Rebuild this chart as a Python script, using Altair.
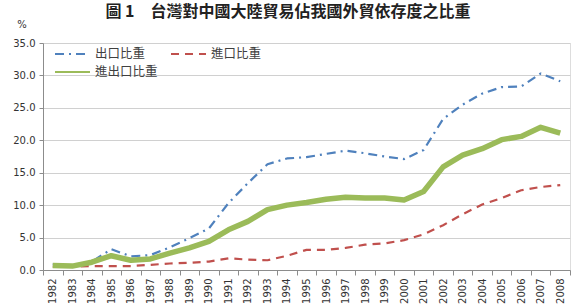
import altair as alt
import pandas as pd

years = [str(y) for y in range(1982, 2009)]
export_share = [0.9, 0.6, 1.3, 3.2, 2.1, 2.3, 3.5, 4.9, 6.4, 10.3, 13.4, 16.3, 17.2, 17.4, 17.9, 18.4, 18.0, 17.5, 17.1, 18.5, 23.3, 25.5, 27.2, 28.2, 28.3, 30.3, 29.1]
import_share = [0.5, 0.5, 0.6, 0.6, 0.6, 0.8, 1.0, 1.1, 1.3, 1.8, 1.6, 1.5, 2.2, 3.1, 3.1, 3.4, 3.9, 4.1, 4.6, 5.5, 6.9, 8.6, 10.1, 11.1, 12.3, 12.8, 13.1]
total_share = [0.7, 0.6, 1.2, 2.2, 1.5, 1.7, 2.6, 3.4, 4.4, 6.2, 7.5, 9.3, 10.0, 10.4, 10.9, 11.2, 11.1, 11.1, 10.8, 12.1, 15.9, 17.7, 18.7, 20.1, 20.6, 22.0, 21.1]

series_names = ["出口比重", "進口比重", "進出口比重"]
series_colors = ["#4F81BD", "#C0504D", "#9BBB59"]
series_dash = [[9, 5, 2, 5], [8, 6], [1, 0]]

title_text = "圖 1　台灣對中國大陸貿易佔我國外貿依存度之比重"
unit_text = "%"

rows = []
for name, vals in zip(series_names, [export_share, import_share, total_share]):
    for y, v in zip(years, vals):
        rows.append({"year": y, "series": name, "value": v})
df = pd.DataFrame(rows)

W, H = 527, 227
num_font = "DejaVu Sans"
cjk_font = "Noto Sans CJK TC"

x_enc = alt.X(
    "year:O",
    sort=years,
    scale=alt.Scale(type="band", paddingInner=0, paddingOuter=0),
    axis=alt.Axis(
        title=None, labelAngle=270, tickBand="extent", grid=False,
        domainColor="#8c8c8c", tickColor="#8c8c8c", tickSize=5,
        labelFont=num_font, labelFontSize=10, labelColor="#333333", labelPadding=3,
    ),
    bandPosition=0.5,
)
y_enc = alt.Y(
    "value:Q",
    scale=alt.Scale(domain=[0, 35], nice=False),
    axis=alt.Axis(
        title=None, values=[0, 5, 10, 15, 20, 25, 30, 35], format=".1f",
        gridColor="#d0d0d0", gridWidth=1, domainColor="#8c8c8c",
        tickColor="#8c8c8c", tickSize=4, labelFont=num_font, labelFontSize=10,
        labelColor="#333333", labelPadding=4,
    ),
)

color_enc = alt.Color(
    "series:N",
    sort=series_names,
    scale=alt.Scale(domain=series_names, range=series_colors),
    legend=alt.Legend(
        title=None, orient="none", legendX=11, legendY=2, columns=2,
        direction="horizontal", values=series_names,
        symbolType="stroke", symbolSize=1225, symbolStrokeWidth=2,
        labelFont=cjk_font, labelFontSize=12.5, labelColor="#404040",
        columnPadding=12, rowPadding=0, labelOffset=4, clipHeight=18,
    ),
)
dash_enc = alt.StrokeDash(
    "series:N",
    sort=series_names,
    scale=alt.Scale(domain=series_names, range=series_dash),
    legend=None,
)

# thin dashed lines for exports and imports (this layer also carries the legend)
thin = alt.Chart(df).transform_filter(alt.datum.series != "進出口比重").mark_line(
    strokeJoin="round", strokeWidth=2.2
).encode(x=x_enc, y=y_enc, color=color_enc, strokeDash=dash_enc, order=alt.Order("year:O"))

# thick solid line for the combined share
thick = alt.Chart(df).transform_filter(alt.datum.series == "進出口比重").mark_line(
    strokeJoin="round", strokeWidth=5.5, color=series_colors[2]
).encode(x=x_enc, y=y_enc, order=alt.Order("year:O"))

labels = pd.DataFrame({"t": [title_text, unit_text], "kind": ["title", "unit"]})
title_mark = alt.Chart(labels).transform_filter(alt.datum.kind == "title").mark_text(
    font=cjk_font, fontSize=16, fontWeight="bold", color="#222222", align="center", baseline="middle"
).encode(text="t:N", x=alt.value(245), y=alt.value(-31))
unit_mark = alt.Chart(labels).transform_filter(alt.datum.kind == "unit").mark_text(
    font=num_font, fontSize=10, color="#333333", align="center", baseline="middle"
).encode(text="t:N", x=alt.value(-21), y=alt.value(-18))

chart = alt.layer(thin, thick, title_mark, unit_mark).properties(
    width=W, height=H,
    autosize=alt.AutoSizeParams(type="none"),
    padding={"left": 43, "top": 43, "right": 2, "bottom": 36},
).configure_view(stroke=None).configure(background="white")

chart.save("out.html", embed_options={"renderer": "svg", "actions": False})
